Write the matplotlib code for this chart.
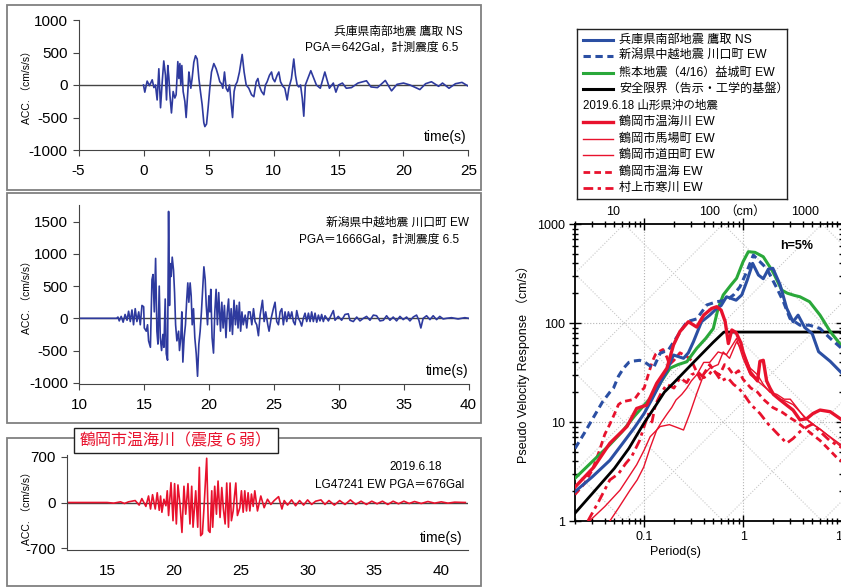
import matplotlib
matplotlib.use('Agg')
import matplotlib.pyplot as plt
from matplotlib.patches import Rectangle
import numpy as np

plt.rcParams['font.family'] = ['Liberation Sans', 'Noto Sans CJK JP']
plt.rcParams['axes.unicode_minus'] = False

W, H = 841, 587

# ---------------- acceleration records ----------------
kobe_t = [0.0, 0.10, 0.28, 0.46, 0.67, 0.80, 0.92, 1.05, 1.18, 1.31, 1.44, 1.56, 1.69, 1.77, 1.87, 1.95,
          2.03, 2.15, 2.28, 2.41, 2.51, 2.64, 2.72, 2.80, 2.87, 2.95, 3.05, 3.18, 3.28, 3.41, 3.49, 3.56,
          3.64, 3.74, 3.87, 4.00, 4.13, 4.26, 4.38, 4.51, 4.64, 4.72, 4.85, 4.97, 5.10, 5.23, 5.41, 5.59,
          5.74, 5.87, 6.00, 6.10, 6.23, 6.36, 6.49, 6.62, 6.74, 6.85, 6.97, 7.08, 7.21, 7.38, 7.59, 7.74,
          7.90, 8.10, 8.31, 8.49, 8.67, 8.80, 8.92, 9.08, 9.26, 9.38, 9.51, 9.69, 9.85, 9.95, 10.10, 10.28,
          10.41, 10.54, 10.72, 10.87, 11.05, 11.18, 11.38, 11.56, 11.69, 11.82, 11.95, 12.08, 12.21, 12.33,
          12.45, 12.87, 13.3, 13.6, 13.95, 14.3, 14.6, 14.8, 15.0, 15.3, 15.6, 16.0, 16.5, 17.15, 17.5,
          18.0, 18.6, 19.08, 19.5, 20.0, 20.5, 21.26, 21.7, 22.15, 22.7, 23.0, 23.5, 24.0, 24.5, 25.0]
kobe_a = [0, -110, 60, -10, 80, -40, 0, -230, 250, -350, 50, 370, 150, -230, 300, 120,
          -150, -430, -100, -200, -150, 360, 100, 330, 0, 300, -100, -250, -500, -100, 200, 100,
          -50, 100, 350, 450, 400, 100, -100, -300, -580, -640, -600, -350, -50, 200, 330, 250,
          150, 50, 20, -50, 200, -50, -100, 0, -280, -500, -100, 0, 50, 200, 470, 200,
          0, -50, -150, -180, 50, 100, -20, -100, -150, 0, 50, 150, 200, 100, 50, 150,
          200, 50, -20, -50, -230, -50, 100, 400, 150, 0, -30, 0, -200, -480,
          0, 220, 0, -50, 200, -50, 30, -110, 0, 30, -50, -40, 30, 65, -30,
          -40, 70, -90, 10, 30, 0, -70, 20, 50, -20, 30, -50, 20, 40, -20]

niigata_t = [10.0, 12.9, 13.0, 13.1, 13.25, 13.4, 13.55, 13.7, 13.82, 13.95, 14.08, 14.2, 14.33, 14.46,
             14.6, 14.72, 14.85, 14.98, 15.03, 15.18, 15.28, 15.36, 15.5, 15.62, 15.7, 15.8, 15.9, 16.0,
             16.08, 16.18, 16.26, 16.36, 16.46, 16.54, 16.64, 16.72, 16.82, 16.9, 16.97, 17.03, 17.1,
             17.18, 17.28, 17.36, 17.44, 17.54, 17.67, 17.74, 17.84, 17.92, 18.0, 18.1, 18.2, 18.3,
             18.38, 18.46, 18.56, 18.64, 18.72, 18.82, 18.92, 19.03, 19.13, 19.23, 19.33, 19.43, 19.54,
             19.62, 19.72, 19.8, 19.9, 20.0, 20.08, 20.15, 20.25, 20.36, 20.46, 20.56, 20.66, 20.76,
             20.9, 21.0, 21.1, 21.2, 21.32, 21.42, 21.52, 21.62, 21.72, 21.82, 21.94, 22.05, 22.15,
             22.25, 22.35, 22.45, 22.55, 22.65, 22.8,
             22.92, 23.05, 23.18, 23.31, 23.44, 23.56, 23.69, 23.82, 23.95, 24.13, 24.26, 24.38, 24.54,
             24.64, 24.8, 24.97, 25.1, 25.23, 25.36, 25.49, 25.62, 25.74, 25.87, 26.0, 26.13, 26.26,
             26.39, 26.51, 26.64, 26.77, 26.9, 27.03, 27.15, 27.28, 27.41, 27.54, 27.67, 27.8, 27.92,
             28.05, 28.18, 28.31, 28.44, 28.56, 28.69, 28.82, 28.95, 29.21, 29.59, 29.72, 29.97, 30.23,
             30.49, 30.74, 30.87, 31.13, 31.39, 31.64, 31.9, 32.15, 32.41, 32.67, 32.92, 33.18, 33.44,
             33.69, 33.95, 34.2, 34.46, 34.72, 34.97, 35.23, 35.49, 35.74, 36.0, 36.18, 36.33, 36.51,
             36.77, 37.03, 37.28, 37.54, 37.79, 38.05, 38.31, 38.69, 39.2, 39.72, 40.0]
niigata_a = [0, 0, 20, -40, 30, -60, 60, -30, 110, -50, 130, -100, 150, -50,
             100, -100, 200, 180, -150, -200, -100, -350, -450, 600, 680, 100, 930, -200,
             -400, 500, -300, -500, -250, -450, 300, -550, -650, 1660, 200, 850, 650,
             950, 750, 400, -100, -350, -200, -500, -300, 100, -680, -300, -100, 300,
             550, 250, 550, 350, -100, 150, -300, -550, -900, -400, -200, 100, 500,
             800, 600, 200, -100, 350, 100, 450, -300, -540, 100, 450, -100, 400,
             -200, 250, -150, 200, -300, 100, 300, -200, 150, -250, 280, -100, 200,
             -150, 250, -200, 100, -100, 50,
             -150, 100, 100, -100, 150, -50, -100, -270, 50, 280, -50, 100, -100,
             -200, 0, 150, 250, -50, -100, 100, 150, -100, 100, -50, 100, 0,
             100, -50, -100, 120, 0, -50, -120, 0, 80, -50, 80, -50, 100,
             -50, 80, -60, 50, -40, 60, -50, 40, -40, 120, -30, 30, -30,
             60, 70, -30, -50, 20, -40, 0, 30, -30, 50, 40, -40, -30,
             40, -30, 20, -40, 30, -20, 20, -40, 20, 50, -30, -150, 0,
             40, -20, 40, -20, 30, -10, 0, 10, -10, 10, 0]

tsuruoka_t = [12.0, 15.0, 15.5, 16.0, 16.3, 16.6, 17.1, 17.4, 17.6, 17.9, 18.1, 18.25, 18.4, 18.6, 18.75,
              18.9, 19.0, 19.1, 19.25, 19.4, 19.5, 19.6, 19.78, 19.93, 20.05, 20.18, 20.3, 20.45, 20.6,
              20.75, 20.88, 21.05, 21.2, 21.33, 21.43, 21.63, 21.78, 21.9, 22.0, 22.13, 22.25, 22.45,
              22.58, 22.7, 22.83, 22.9, 23.05, 23.18, 23.3, 23.45, 23.58, 23.7, 23.83, 23.95, 24.08,
              24.2, 24.3, 24.43, 24.53, 24.63, 24.75, 24.93, 25.05, 25.18, 25.3, 25.43, 25.55, 25.68,
              25.8, 25.93, 26.05, 26.25, 26.5, 26.75, 27.0, 27.25, 27.5, 27.83, 28.08, 28.25, 28.5,
              28.8, 29.1, 29.4, 29.7, 30.0, 30.3, 30.6, 31.0, 31.3, 31.6, 32.0, 32.4, 32.8, 33.2,
              33.6, 34.0, 34.4, 34.8, 35.2, 35.6, 36.0, 36.4, 36.8, 37.2, 37.6, 38.0, 38.5, 39.0,
              39.5, 40.0, 40.5, 41.0, 41.8]
tsuruoka_a = [0, 0, -10, 10, -15, 10, 30, -40, 60, -60, 100, -100, 120, -100, 150,
              -120, 100, -150, 50, -50, 180, -200, 305, -280, 290, -330, 270, -20, -460,
              250, -180, 290, -330, 250, -380, 180, -380, 540, -510, -480, -80, 680,
              -430, -460, 180, -380, 250, -180, 330, -230, 230, -100, -330, 300, -380,
              300, -280, -130, 100, 300, -200, -80, 180, -150, 180, -130, 150, -130,
              130, -60, 180, -130, 100, -80, 50, -30, 30, 90, -100, 30, -40,
              40, -50, 30, -40, 40, -30, 20, 40, -30, 30, -40, 30, -30, 40,
              -30, 20, -30, 20, -20, 20, -30, 20, -20, 20, -15, 15, -15, 15,
              -10, 10, -10, 5, 0]

# ---------------- response spectra (period s, Sv cm/s) ----------------
kobe_T = [0.02, 0.03, 0.045, 0.06, 0.08, 0.1, 0.12, 0.145, 0.17, 0.198, 0.25, 0.28, 0.315, 0.38, 0.46,
          0.54, 0.6, 0.68, 0.85, 0.97, 1.1, 1.25, 1.43, 1.6, 1.8, 2.0, 2.37, 2.76, 3.2, 3.6, 4.2, 5.0,
          5.8, 7.6, 10]
kobe_Sv = [1.98, 2.8, 4.1, 6.0, 8.8, 12.2, 17, 24.6, 33, 47.5, 44, 50, 64.7, 103, 120,
           140, 150, 184, 170, 192, 270, 400, 305, 280, 350, 357, 242, 141, 103, 120, 90, 78,
           51.3, 41, 31]

niigata_T = [0.02, 0.025, 0.031, 0.038, 0.045, 0.049, 0.055, 0.062, 0.07, 0.078, 0.09, 0.1, 0.124,
             0.145, 0.176, 0.21, 0.27, 0.34, 0.43, 0.54, 0.68, 0.8, 0.93, 1.09, 1.27, 1.48, 1.73,
             2.2, 2.55, 2.98, 3.76, 4.7, 6.0, 7.6, 10]
niigata_Sv = [5.4, 7.8, 11.3, 16, 20, 22, 29, 35, 40, 41.3, 42, 40.6, 35,
              49.4, 53.4, 70, 103, 110, 152, 164, 170, 192, 232, 330, 485, 416, 356,
              224, 165, 111, 95, 95, 88, 70, 55]

kumamoto_T = [0.02, 0.03, 0.045, 0.06, 0.08, 0.1, 0.124, 0.15, 0.183, 0.22, 0.27, 0.34, 0.42, 0.5,
              0.56, 0.63, 0.75, 0.86, 1.0, 1.13, 1.32, 1.6, 2.0, 2.46, 2.8, 3.3, 3.76, 4.7, 6.0,
              7.6, 10]
kumamoto_Sv = [2.7, 4.0, 5.9, 8.0, 11.5, 14.8, 18.7, 26, 35, 38, 40.6, 55.5, 70, 88,
               141, 192, 240, 283, 416, 525, 517, 467, 330, 215, 200, 190, 184, 164, 120,
               82, 58]

limit_T = [0.02, 0.03, 0.05, 0.07, 0.1, 0.13, 0.16, 0.2, 0.3, 0.4, 0.5, 0.64, 10]
limit_Sv = [1.2, 1.9, 3.4, 5.4, 9.8, 14.5, 20, 25, 38, 51, 64, 81, 81]

atsumikawa_T = [0.02, 0.031, 0.045, 0.067, 0.084, 0.106, 0.134, 0.17, 0.198, 0.23, 0.28, 0.34, 0.4,
                0.48, 0.54, 0.6, 0.66, 0.71, 0.77, 0.85, 0.95, 1.0, 1.18, 1.4, 1.48, 1.6, 1.73,
                1.87, 2.03, 2.37, 2.76, 3.2, 3.76, 4.4, 5.1, 6.0, 7.6, 10]
atsumikawa_Sv = [2.2, 3.5, 6.1, 9.0, 13.7, 14.8, 24.6, 35, 60, 82, 103, 91, 120,
                 140, 146, 135, 103, 62, 85, 80, 63, 51, 32, 26, 41, 42, 26,
                 22, 19, 16.7, 14.8, 13.2, 10.5, 10.8, 12.2, 13.2, 12.7, 10.5]

bajomachi_T = [0.028, 0.04, 0.057, 0.07, 0.084, 0.1, 0.115, 0.145, 0.18, 0.215, 0.25, 0.29, 0.34, 0.4,
               0.46, 0.56, 0.63, 0.73, 0.86, 1.0, 1.18, 1.4, 1.6, 1.87, 2.2, 2.6, 3.0, 3.5, 4.2,
               5.0, 6.0, 7.6, 10]
bajomachi_Sv = [1.0, 1.4, 2.05, 2.8, 3.7, 5.2, 7.1, 9.0, 9.4, 8.8, 8.3, 12.2, 19.4, 30,
                35, 38, 51, 44, 64.7, 51, 35, 30, 24, 20, 19, 17, 17, 14, 11,
                9.5, 8.5, 7.0, 5.5]

michitamachi_T = [0.045, 0.055, 0.072, 0.085, 0.099, 0.115, 0.134, 0.15, 0.17, 0.19, 0.21, 0.24, 0.27,
                  0.3, 0.34, 0.4, 0.46, 0.56, 0.68, 0.86, 1.0, 1.18, 1.4, 1.7, 2.0, 2.4, 2.8, 3.2,
                  3.8, 4.5, 5.5, 7, 10]
michitamachi_Sv = [1.0, 1.35, 2.05, 2.6, 3.5, 5.5, 8.3, 10, 12, 14, 16.7, 19, 22,
                   26, 30, 40, 40, 51, 48, 70, 44, 30, 26, 22, 19, 17, 16, 15,
                   12.5, 10.5, 9, 7.5, 5.8]

atsumi_T = [0.02, 0.025, 0.03, 0.035, 0.04, 0.045, 0.05, 0.055, 0.06, 0.07, 0.08, 0.09, 0.1, 0.11, 0.12,
            0.13, 0.14, 0.155, 0.17, 0.18, 0.2, 0.23, 0.27, 0.3, 0.34, 0.37, 0.42, 0.46, 0.52, 0.58,
            0.65, 0.7, 0.8, 0.9, 1.0, 1.2, 1.4, 1.6, 2.0, 2.5, 3.0, 3.5, 4.0, 5.0, 6.0, 7.5, 9.0, 10]
atsumi_Sv = [1.85, 2.4, 3.3, 5.0, 7.5, 9.5, 12, 15, 16, 16.5, 17, 20, 22, 30, 40,
             48, 51, 54, 45, 38, 42, 50, 46, 42, 32, 27, 33, 38, 32, 30,
             38, 36, 30, 33, 27, 22, 20, 17, 14, 12.5, 11, 10, 9, 7.5, 6.5, 5.2, 4.3, 4.0]

kangawa_T = [0.027, 0.035, 0.045, 0.055, 0.065, 0.075, 0.09, 0.1, 0.11, 0.12, 0.13, 0.15, 0.17, 0.2,
             0.23, 0.27, 0.3, 0.35, 0.4, 0.45, 0.5, 0.6, 0.7, 0.8, 0.9, 1.0, 1.2, 1.48, 1.8, 2.2,
             2.76, 3.2, 3.76, 4.5, 5.0, 6.0, 7.5, 9.0, 10]
kangawa_Sv = [1.0, 1.6, 2.6, 3.0, 3.8, 4.5, 6.5, 9, 12, 10, 15, 20, 24, 22,
              28, 25, 30, 32, 28, 30, 34, 26, 28, 24, 22, 19.5, 15, 12.2, 9.5, 7.7,
              6.1, 6.8, 8.0, 9.0, 9.5, 8.0, 6.5, 5.8, 5.5]

disp_lines = [0.01, 0.1, 1, 10, 100, 1000]          # cm
acc_lines = [1, 10, 100, 1000, 10000, 100000]        # cm/s/s

BLUE_W = '#2e3a9e'
BLUE = '#2b4fa3'
GREEN = '#2aa83a'
RED = '#e8122d'


def fbox(x0, y0, x1, y1):
    return [x0 / W, 1 - y1 / H, (x1 - x0) / W, (y1 - y0) / H]


fig = plt.figure(figsize=(W / 100, H / 100), dpi=100)

# panel frames
for y0, y1 in [(5, 190), (193, 423), (438, 586)]:
    fig.patches.append(Rectangle((7 / W, 1 - y1 / H), (481 - 7) / W, (y1 - y0) / H,
                                 transform=fig.transFigure, fill=False, ec='#808080', lw=1.3))


def wave_panel(box, t, a, color, xlim, ylim, xticks, yticks, texts, time_pos, ylab_y):
    ax = fig.add_axes(fbox(*box))
    ax.axhline(0, color='#444444', lw=1.0, zorder=1)
    ax.plot(t, a, color=color, lw=1.2, zorder=2)
    ax.set_xlim(*xlim)
    ax.set_ylim(*ylim)
    ax.set_xticks(xticks)
    ax.set_yticks(yticks)
    for s in ['top', 'right']:
        ax.spines[s].set_visible(False)
    for s in ['left', 'bottom']:
        ax.spines[s].set_color('#444444')
    ax.tick_params(direction='out', length=4, labelsize=11, color='#444444', pad=4)
    ax.tick_params(axis='x', pad=6)
    ax.set_ylabel('ACC. （cm/s/s）', fontsize=7.5)
    ax.yaxis.set_label_coords(-(box[0] - 32) / (box[2] - box[0]), ylab_y)
    for (x, y, s) in texts:
        ax.text(x, y, s, transform=ax.transAxes, ha='right', va='center', fontsize=8.5)
    ax.text(time_pos[0], time_pos[1], 'time(s)', transform=ax.transAxes, ha='right', va='center',
            fontsize=10)
    ax.patch.set_alpha(0)
    return ax


wave_panel((78.5, 20, 468.5, 150), kobe_t, kobe_a, BLUE_W, (-5, 25), (-1000, 1000),
           range(-5, 26, 5), [-1000, -500, 0, 500, 1000],
           [(0.986, 0.905, '兵庫県南部地震 鷹取 NS'), (0.974, 0.785, 'PGA＝642Gal，計測震度 6.5')],
           (0.996, 0.10), 0.5)

wave_panel((79, 205, 468.5, 384), niigata_t, niigata_a, BLUE_W, (10, 40), (-1020, 1760),
           range(10, 41, 5), [-1000, -500, 0, 500, 1000, 1500],
           [(1.0, 0.90, '新潟県中越地震 川口町 EW'), (0.977, 0.805, 'PGA＝1666Gal，計測震度 6.5')],
           (1.0, 0.07), 0.5)

ax3 = wave_panel((67, 455, 468, 550), tsuruoka_t, tsuruoka_a, RED, (12, 42), (-730, 730),
                 range(15, 41, 5), [-700, 0, 700],
                 [(0.935, 0.87, '2019.6.18'), (0.99, 0.68, 'LG47241 EW PGA＝676Gal')],
                 (0.985, 0.125), 0.47)
ax3.tick_params(axis='x', length=0, pad=10)

# red title box
fig.patches.append(Rectangle((74 / W, 1 - 453 / H), (278 - 74) / W, (453 - 428) / H,
                             transform=fig.transFigure, fc='white', ec='#222222', lw=1.0, zorder=5))
fig.text(176 / W, 1 - 441 / H, '鶴岡市温海川（震度６弱）', color=RED, fontsize=11.5,
         ha='center', va='center', zorder=6)

# ---------------- response spectrum ----------------
ax = fig.add_axes(fbox(575, 224, 842, 521))
ax.set_xscale('log')
ax.set_yscale('log')
ax.set_xlim(0.02, 10)
ax.set_ylim(1, 1000)

Tg = np.array([0.02, 10])
for d in disp_lines:
    ax.plot(Tg, 2 * np.pi * d / Tg, color='#c8c8c8', lw=0.8, ls=(0, (1, 1.5)), zorder=1)
for acc in acc_lines:
    ax.plot(Tg, acc * Tg / (2 * np.pi), color='#c8c8c8', lw=0.8, ls=(0, (1, 1.5)), zorder=1)
for v in [0.1, 1]:
    ax.axvline(v, color='#b5b5b5', lw=0.8, ls=':', zorder=1)
for v in [10, 100]:
    ax.axhline(v, color='#b5b5b5', lw=0.8, ls=':', zorder=1)

dash = (0, (2.4, 1.5))
dashdot = (0, (3.5, 1.6, 1.2, 1.6))
ax.plot(michitamachi_T, michitamachi_Sv, color=RED, lw=1.0, zorder=3)
ax.plot(bajomachi_T, bajomachi_Sv, color=RED, lw=1.0, zorder=3)
ax.plot(atsumi_T, atsumi_Sv, color=RED, lw=2.0, ls=dash, zorder=3)
ax.plot(kangawa_T, kangawa_Sv, color=RED, lw=2.0, ls=dashdot, zorder=3)
ax.plot(limit_T, limit_Sv, color='black', lw=2.0, zorder=4)
ax.plot(kumamoto_T, kumamoto_Sv, color=GREEN, lw=2.2, zorder=4)
ax.plot(niigata_T, niigata_Sv, color=BLUE, lw=2.2, ls=dash, zorder=4)
ax.plot(kobe_T, kobe_Sv, color=BLUE, lw=2.2, zorder=5)
ax.plot(atsumikawa_T, atsumikawa_Sv, color=RED, lw=2.4, zorder=5)

ax.set_xticks([0.1, 1, 10])
ax.set_xticklabels(['0.1', '1', '10'])
ax.set_yticks([1, 10, 100, 1000])
ax.set_yticklabels(['1', '10', '100', '1000'])
ax.minorticks_on()
ax.tick_params(which='both', direction='inout', top=True, right=True, labelsize=9, width=1.0)
ax.tick_params(which='major', length=8)
ax.tick_params(which='minor', length=5)
ax.yaxis.set_minor_formatter(matplotlib.ticker.NullFormatter())
ax.xaxis.set_minor_formatter(matplotlib.ticker.NullFormatter())
for s in ax.spines.values():
    s.set_linewidth(1.3)
ax.set_xlabel('Period(s)', fontsize=9)
ax.xaxis.set_label_coords(0.378, -0.085)
ax.set_ylabel('Pseudo Velocity Response （cm/s）', fontsize=9)
ax.yaxis.set_label_coords(-0.17, 0.54)
ax.text(0.83, 0.925, 'h=5%', transform=ax.transAxes, fontsize=9, fontweight='bold', ha='center',
        va='center')
for x, s in [(613, '10'), (710, '100'), (745, '（cm）'), (805, '1000')]:
    ax.text((x - 575) / 267, 1 + 12 / 297, s, transform=ax.transAxes, fontsize=9,
            ha='center', va='center')

# ---------------- legend ----------------
lax = fig.add_axes(fbox(577, 29, 787, 199))
lax.set_xlim(577, 787)
lax.set_ylim(199, 29)
lax.set_xticks([])
lax.set_yticks([])
for s in lax.spines.values():
    s.set_linewidth(1.0)
    s.set_color('#222222')
legend_rows = [
    (BLUE, 2.2, '-', '兵庫県南部地震 鷹取 NS'),
    (BLUE, 2.2, dash, '新潟県中越地震 川口町 EW'),
    (GREEN, 2.2, '-', '熊本地震（4/16）益城町 EW'),
    ('black', 2.2, '-', '安全限界（告示・工学的基盤）'),
    (None, 0, None, '2019.6.18 山形県沖の地震'),
    (RED, 2.4, '-', '鶴岡市温海川 EW'),
    (RED, 1.0, '-', '鶴岡市馬場町 EW'),
    (RED, 1.0, '-', '鶴岡市道田町 EW'),
    (RED, 2.0, dash, '鶴岡市温海 EW'),
    (RED, 2.0, dashdot, '村上市寒川 EW'),
]
row_y = [40, 56, 73, 89, 106, 122, 139, 155, 172, 188]
for (c, lw, ls, lab), y in zip(legend_rows, row_y):
    if c is None:
        lax.text(583, y, lab, va='center', ha='left', fontsize=8.3)
    else:
        lax.plot([583, 613], [y, y], color=c, lw=lw, ls=ls)
        lax.text(619, y, lab, va='center', ha='left', fontsize=8.7)

fig.savefig('out.png', dpi=100)
